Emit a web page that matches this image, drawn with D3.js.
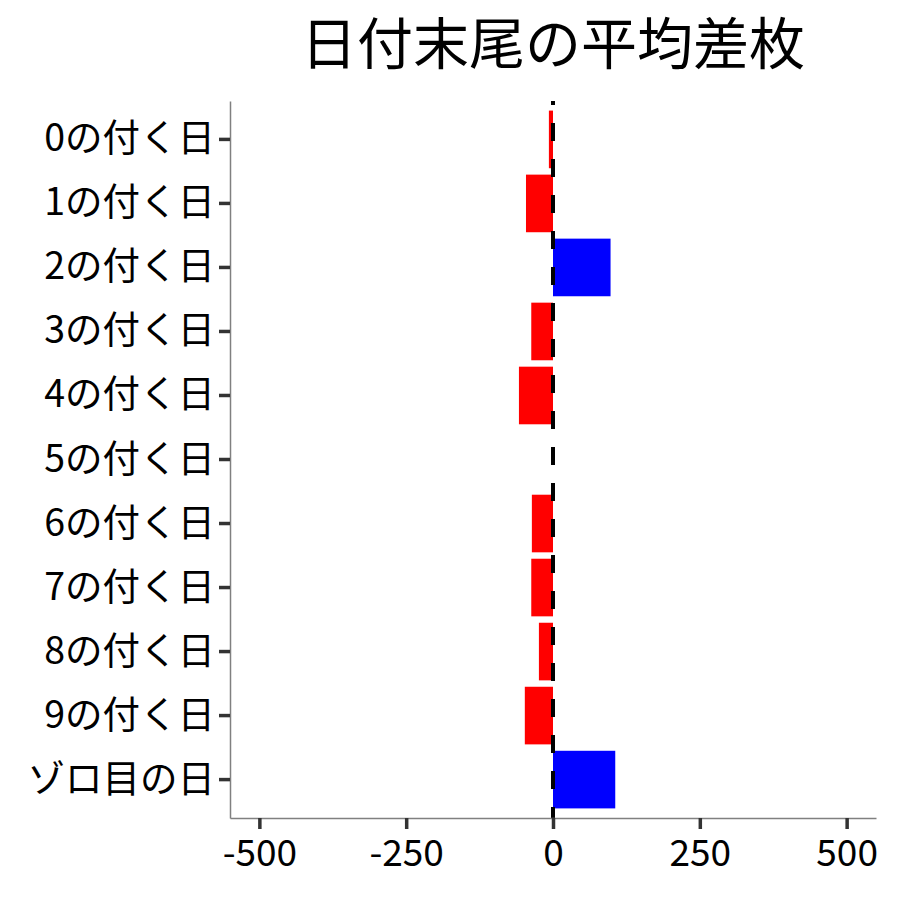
<!DOCTYPE html>
<html>
<head>
<meta charset="utf-8">
<title>日付末尾の平均差枚</title>
<script src="https://cdn.jsdelivr.net/npm/d3@7"></script>
<style>
  body { margin: 0; background: #fff; }
  text { font-family: "Noto Sans CJK JP", "Noto Sans", sans-serif; fill: #000; }
</style>
</head>
<body>
<div id="chart"></div>
<script>
// data
var days = ["0の付く日","1の付く日","2の付く日","3の付く日","4の付く日","5の付く日",
            "6の付く日","7の付く日","8の付く日","9の付く日","ゾロ目の日"];
var diffs = [-7, -46, 98, -37, -58, 0, -36, -37, -24, -48, 106];
var xTicks = [-500, -250, 0, 250, 500];
var xLimits = [-550, 550];

var width = 900, height = 900;
var margin = {top: 101, right: 24, bottom: 82, left: 230};

var svg = d3.select("#chart").append("svg")
    .attr("width", width)
    .attr("height", height);

var x = d3.scaleLinear()
    .domain(xLimits)
    .range([margin.left, width - margin.right]);

var y = d3.scaleBand()
    .domain(days)
    .range([margin.top, height - margin.bottom])
    .paddingInner(0.1)
    .paddingOuter(0.15);

// bars: red below zero, blue above
svg.selectAll("rect.bar").data(days).enter().append("rect")
    .attr("class", "bar")
    .attr("x", function(d, i) { return x(Math.min(0, diffs[i])); })
    .attr("y", function(d) { return y(d); })
    .attr("width", function(d, i) { return Math.abs(x(diffs[i]) - x(0)); })
    .attr("height", y.bandwidth())
    .style("fill", function(d, i) { return diffs[i] < 0 ? "#FF0000" : "#0000FF"; });

// dashed reference line at 0
svg.append("line")
    .attr("x1", x(0)).attr("x2", x(0))
    .attr("y1", y.range()[1]).attr("y2", y.range()[0])
    .style("stroke", "#000")
    .style("stroke-width", 4)
    .style("stroke-dasharray", "18,18")
    .style("stroke-dashoffset", 7);

// x axis (plain hyphen for negatives, like the original)
var xAxis = svg.append("g")
    .attr("transform", "translate(0," + y.range()[1] + ")")
    .call(d3.axisBottom(x).tickValues(xTicks)
        .tickFormat(function(d) { return String(d); })
        .tickSize(11).tickPadding(11).tickSizeOuter(0));
xAxis.select(".domain").style("stroke", "#808080").style("stroke-width", 1.5);
xAxis.selectAll(".tick line").style("stroke", "#333").style("stroke-width", 3.5);
xAxis.selectAll(".tick text")
    .style("font-size", "37px")
    .style("font-family", "'Noto Sans CJK JP', sans-serif")
    .attr("fill", "#000");

// y axis
var yAxis = svg.append("g")
    .attr("transform", "translate(" + x.range()[0] + ",0)")
    .call(d3.axisLeft(y).tickSize(11).tickPadding(4).tickSizeOuter(0));
yAxis.select(".domain").style("stroke", "#808080").style("stroke-width", 1.5);
yAxis.selectAll(".tick line").style("stroke", "#333").style("stroke-width", 3.5);
yAxis.selectAll(".tick text")
    .style("font-size", "37.5px")
    .style("font-family", "'Noto Sans CJK JP', sans-serif")
    .attr("fill", "#000");

// title
svg.append("text")
    .attr("x", (x.range()[0] + x.range()[1]) / 2)
    .attr("y", 64)
    .attr("text-anchor", "middle")
    .style("font-size", "56px")
    .text("日付末尾の平均差枚");
</script>
</body>
</html>
